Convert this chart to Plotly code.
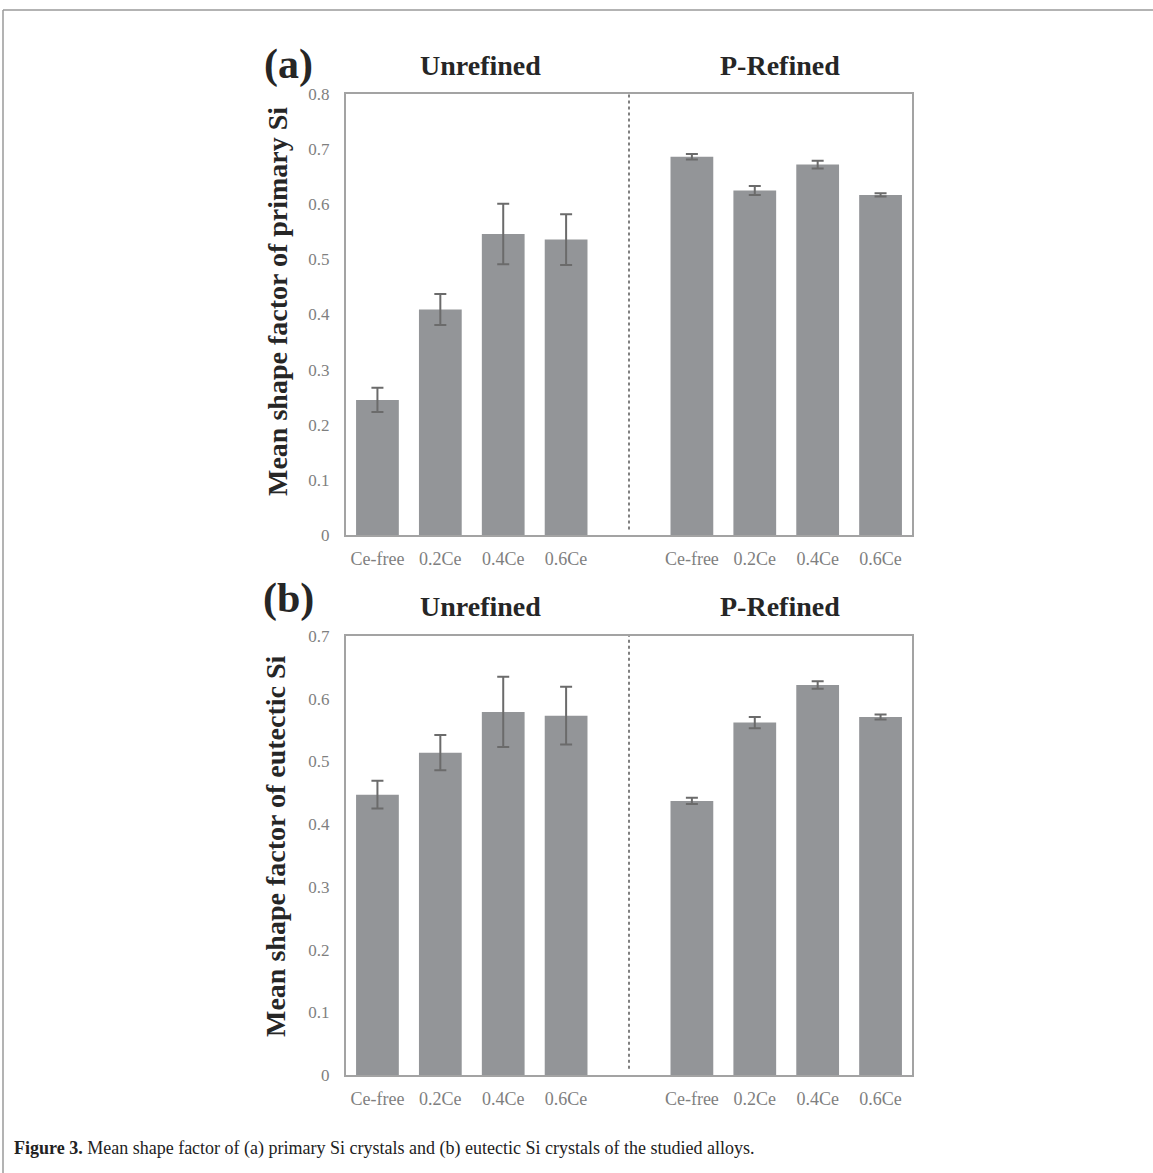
import plotly.graph_objects as go

W, H = 1153, 1173

categories = ["Ce-free", "0.2Ce", "0.4Ce", "0.6Ce", "", "Ce-free", "0.2Ce", "0.4Ce", "0.6Ce"]
# (a) primary Si: unrefined then P-refined (None = empty separator slot)
primary_mean = [0.245, 0.409, 0.546, 0.536, None, 0.686, 0.625, 0.672, 0.617]
primary_err = [0.022, 0.028, 0.055, 0.046, None, 0.005, 0.008, 0.007, 0.003]
# (b) eutectic Si
eutectic_mean = [0.447, 0.514, 0.579, 0.573, None, 0.437, 0.562, 0.622, 0.571]
eutectic_err = [0.022, 0.028, 0.056, 0.046, None, 0.005, 0.009, 0.006, 0.004]
yticks_a = [0, 0.1, 0.2, 0.3, 0.4, 0.5, 0.6, 0.7, 0.8]
yticks_b = [0, 0.1, 0.2, 0.3, 0.4, 0.5, 0.6, 0.7]
group_titles = ["Unrefined", "P-Refined"]

positions = list(range(len(categories)))
tick_pos = [p for p, c in zip(positions, categories) if c]
tick_txt = [c for c in categories if c]

BAR = "#939598"
AXC = "#a3a3a3"
TICKC = "#7f7f7f"
TXT = "#262626"
SERIF = "Liberation Serif, Times New Roman, serif"

def px(x):
    return x / W

def py(y):
    return 1 - y / H

fig = go.Figure()
for mean, err, xa, ya in [(primary_mean, primary_err, "x", "y"), (eutectic_mean, eutectic_err, "x2", "y2")]:
    fig.add_trace(go.Bar(
        x=positions, y=mean, xaxis=xa, yaxis=ya,
        marker=dict(color=BAR, line=dict(width=0)),
        error_y=dict(type="data", array=err, visible=True, color="#6b6b6b", thickness=2, width=6),
        showlegend=False, hoverinfo="skip",
    ))

xdom = [px(346), px(912)]
common_x = dict(
    range=[-0.5, 8.5], tickmode="array", tickvals=tick_pos, ticktext=tick_txt,
    showline=True, linecolor=AXC, linewidth=2, mirror=True, ticks="",
    showgrid=False, zeroline=False, domain=xdom, automargin=False,
    tickfont=dict(family=SERIF, size=18, color=TICKC), ticklabelstandoff=6,
)
common_y = dict(
    showline=True, linecolor=AXC, linewidth=2, mirror=True, ticks="",
    showgrid=False, zeroline=False, automargin=False,
    tickfont=dict(family=SERIF, size=17, color=TICKC), ticklabelstandoff=11,
)

fig.update_layout(
    template="none",
    width=W, height=H, margin=dict(l=0, r=0, t=0, b=0, pad=0, autoexpand=False),
    paper_bgcolor="white", plot_bgcolor="white", bargap=0.32,
    xaxis=dict(**common_x, anchor="y"),
    yaxis=dict(**common_y, range=[0, 0.8], tickvals=yticks_a, domain=[py(535), py(94)], anchor="x"),
    xaxis2=dict(**common_x, anchor="y2"),
    yaxis2=dict(**common_y, range=[0, 0.7], tickvals=yticks_b, domain=[py(1075), py(636)], anchor="x2"),
)

# dotted separators
fig.add_shape(type="line", xref="x", yref="y", x0=4, x1=4, y0=0.01, y1=0.8,
              line=dict(color="#808080", width=2, dash="dot"))
fig.add_shape(type="line", xref="x2", yref="y2", x0=4, x1=4, y0=0.01, y1=0.7,
              line=dict(color="#808080", width=2, dash="dot"))

# outer frame
fig.add_shape(type="line", xref="paper", yref="paper", x0=px(3), x1=1, y0=py(10), y1=py(10),
              line=dict(color="#9a9a9a", width=1.5))
fig.add_shape(type="line", xref="paper", yref="paper", x0=px(3), x1=px(3), y0=py(10), y1=0,
              line=dict(color="#9a9a9a", width=1.5))

C = dict(xref="paper", yref="paper", xanchor="center", yanchor="middle", showarrow=False)
ann = []
for lab, yc in [("(a)", 64), ("(b)", 598)]:
    ann.append(dict(text="<b>" + lab + "</b>", x=px(288), y=py(yc), **C,
                    font=dict(family=SERIF, size=42, color=TXT)))
for yc in [66, 606]:
    ann.append(dict(text="<b>" + group_titles[0] + "</b>", x=px(480), y=py(yc), **C,
                    font=dict(family=SERIF, size=28, color=TXT)))
    ann.append(dict(text="<b>" + group_titles[1] + "</b>", x=px(780), y=py(yc), **C,
                    font=dict(family=SERIF, size=28, color=TXT)))
ann.append(dict(text="<b>Mean shape factor of primary Si</b>", x=px(277), y=py(302), **C,
                textangle=-90, font=dict(family=SERIF, size=28, color=TXT)))
ann.append(dict(text="<b>Mean shape factor of eutectic Si</b>", x=px(275), y=py(846), **C,
                textangle=-90, font=dict(family=SERIF, size=28, color=TXT)))
ann.append(dict(text="<b>Figure 3.</b> Mean shape factor of (a) primary Si crystals and (b) eutectic Si crystals of the studied alloys.",
                x=px(12), y=py(1148), xref="paper", yref="paper", xanchor="left", yanchor="middle", showarrow=False,
                font=dict(family=SERIF, size=18, color="#222222")))
fig.update_layout(annotations=ann)

fig.write_html("out.html", config={"displayModeBar": False, "staticPlot": True},
               post_script="document.body.style.margin='0';document.body.style.overflow='hidden';")
